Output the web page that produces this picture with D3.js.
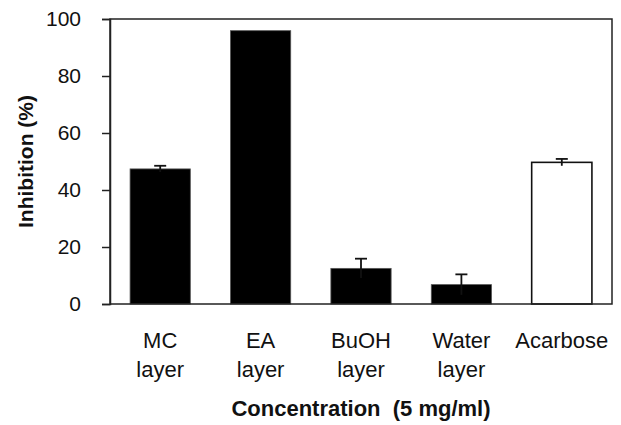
<!DOCTYPE html>
<html>
<head>
<meta charset="utf-8">
<script src="https://cdn.jsdelivr.net/npm/d3@7"></script>
<style>
  body { margin: 0; background: #fff; }
  text { font-family: "Liberation Sans", Arial, sans-serif; fill: #111; }
</style>
</head>
<body>
<div id="vis-1"></div>
<script>
const SVG1 = d3.select("#vis-1").append("svg")

const width1 = 621;
const height1 = 425;

// datos
const categorias = ["MC layer", "EA layer", "BuOH layer", "Water layer", "Acarbose"];
const inhibicion = [47.4, 95.9, 12.5, 6.8, 49.7];
const errores = [1.1, 0, 3.4, 3.6, 1.2];
const ticksY = [0, 20, 40, 60, 80, 100];

const margin = {top: 19, right: 9, bottom: 121, left: 110};
const w = width1 - margin.left - margin.right;
const h = height1 - margin.top - margin.bottom;

SVG1.attr('width', width1).attr('height', height1);

const g = SVG1.append('g').attr('transform', `translate(${margin.left},${margin.top})`);

const x = d3.scaleBand().domain(categorias).range([0, w]).paddingInner(0.4).paddingOuter(0.2);
const y = d3.scaleLinear().domain([0, 100]).range([h, 0]);

const datos = categorias.map((c, i) => ({cat: c, val: inhibicion[i], err: errores[i], i: i}));

// barras
g.selectAll('rect.bar')
  .data(datos)
  .enter()
  .append('rect')
  .attr('class', 'bar')
  .attr('x', d => x(d.cat))
  .attr('y', d => y(d.val))
  .attr('width', x.bandwidth())
  .attr('height', d => h - y(d.val))
  .style('fill', d => d.cat == 'Acarbose' ? '#fff' : '#000')
  .style('stroke', d => d.cat == 'Acarbose' ? '#111' : '#555')
  .style('stroke-width', d => d.cat == 'Acarbose' ? 1.6 : 0.8);

// barras de error
const conError = datos.filter(d => d.err > 0);
g.selectAll('line.err')
  .data(conError)
  .enter()
  .append('line')
  .attr('class', 'err')
  .attr('x1', d => x(d.cat) + x.bandwidth()/2)
  .attr('x2', d => x(d.cat) + x.bandwidth()/2)
  .attr('y1', d => y(d.val - d.err))
  .attr('y2', d => y(d.val + d.err))
  .style('stroke', '#111')
  .style('stroke-width', 1.8);

g.selectAll('line.cap')
  .data(conError)
  .enter()
  .append('line')
  .attr('class', 'cap')
  .attr('x1', d => x(d.cat) + x.bandwidth()/2 - 6)
  .attr('x2', d => x(d.cat) + x.bandwidth()/2 + 6)
  .attr('y1', d => y(d.val + d.err))
  .attr('y2', d => y(d.val + d.err))
  .style('stroke', '#111')
  .style('stroke-width', 1.8);

// marco
g.append('rect')
  .attr('x', 0).attr('y', 0)
  .attr('width', w).attr('height', h)
  .style('fill', 'none')
  .style('stroke', '#222')
  .style('stroke-width', 1.5);

// eje y
const ejeY = g.append('g')
  .call(d3.axisLeft(y).tickValues(ticksY).tickSize(8).tickPadding(21).tickFormat(d3.format('d')));
ejeY.select('.domain').style('stroke', '#222').style('stroke-width', 1.5);
ejeY.selectAll('.tick line').style('stroke', '#222').style('stroke-width', 1.5);
ejeY.selectAll('.tick text')
  .style('font-family', '"Liberation Sans", Arial, sans-serif')
  .style('font-size', '21px')
  .style('fill', '#111');

// etiquetas de categorias (dos lineas)
const etiquetas = g.selectAll('text.cat')
  .data(datos)
  .enter()
  .append('text')
  .attr('class', 'cat')
  .attr('text-anchor', 'middle')
  .attr('font-size', '22px')
  .attr('transform', d => `translate(${x(d.cat) + x.bandwidth()/2},${h + 44})`);

etiquetas.each(function(d) {
  const partes = d.cat.split(' ');
  const t = d3.select(this);
  partes.forEach((p, k) => {
    t.append('tspan').attr('x', 0).attr('y', k * 29).text(p);
  });
});

// titulo eje x
SVG1.append('text')
  .attr('x', margin.left + w/2)
  .attr('y', 416)
  .attr('text-anchor', 'middle')
  .attr('font-size', '22px')
  .attr('font-weight', 'bold')
  .style('white-space', 'pre')
  .text('Concentration  (5 mg/ml)');

// titulo eje y
SVG1.append('text')
  .attr('transform', `translate(33,${margin.top + h/2}) rotate(-90)`)
  .attr('text-anchor', 'middle')
  .attr('font-size', '21px')
  .attr('font-weight', 'bold')
  .text('Inhibition (%)');
</script>
</body>
</html>
